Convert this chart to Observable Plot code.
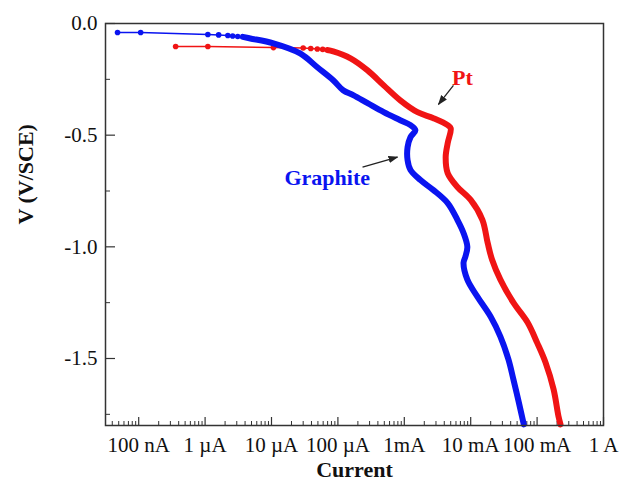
<!DOCTYPE html>
<html>
<head>
<meta charset="utf-8">
<script src="https://cdn.jsdelivr.net/npm/d3@7"></script>
<script src="https://cdn.jsdelivr.net/npm/@observablehq/plot@0.6"></script>
<style>
  html, body { margin: 0; padding: 0; background: #fff; }
  #chart { width: 636px; height: 484px; }
</style>
</head>
<body>
<div id="chart"></div>
<script>
// ---- Data ----
const graphiteI = [4.8e-8, 1.07e-7, 1.1e-6, 1.6e-6, 2.2e-6, 2.6e-6, 3.1e-6, 3.7e-6, 4.8e-6, 1.07e-5, 2.7e-5, 4.9e-5, 8.5e-5, 1.2e-4, 1.7e-4, 2.8e-4, 4.9e-4, 8.7e-4, 1.24e-3, 1.47e-3, 1.24e-3, 1.12e-3, 1.12e-3, 1.24e-3, 1.75e-3, 2.75e-3, 4.5e-3, 6.3e-3, 7.8e-3, 8.9e-3, 8.3e-3, 7.8e-3, 8.9e-3, 1.26e-2, 2.0e-2, 2.8e-2, 3.7e-2, 4.4e-2, 5.3e-2, 6.3e-2];
const graphiteV = [-0.040, -0.040, -0.049, -0.051, -0.054, -0.056, -0.058, -0.060, -0.067, -0.089, -0.134, -0.196, -0.254, -0.299, -0.321, -0.357, -0.397, -0.433, -0.455, -0.478, -0.509, -0.554, -0.612, -0.656, -0.701, -0.746, -0.804, -0.879, -0.938, -1.000, -1.045, -1.071, -1.147, -1.223, -1.313, -1.402, -1.504, -1.594, -1.696, -1.795];
const graphiteDenseFrom = 7;

const ptI = [3.6e-7, 1.1e-6, 1.07e-5, 3.0e-5, 3.9e-5, 4.9e-5, 5.9e-5, 6.9e-5, 8.5e-5, 1.55e-4, 2.8e-4, 4.9e-4, 8.7e-4, 1.58e-3, 2.75e-3, 4.5e-3, 5.0e-3, 4.5e-3, 4.2e-3, 4.5e-3, 6.3e-3, 1.0e-2, 1.5e-2, 1.8e-2, 2.1e-2, 2.8e-2, 4.4e-2, 7.2e-2, 0.10, 0.134, 0.177, 0.21, 0.225];
const ptV = [-0.103, -0.103, -0.108, -0.110, -0.112, -0.114, -0.116, -0.119, -0.125, -0.156, -0.210, -0.277, -0.344, -0.397, -0.424, -0.455, -0.469, -0.536, -0.598, -0.670, -0.732, -0.790, -0.879, -0.982, -1.058, -1.147, -1.250, -1.339, -1.429, -1.518, -1.638, -1.759, -1.795];
const ptDenseFrom = 7;

const xTickValues = [1e-7, 1e-6, 1e-5, 1e-4, 1e-3, 1e-2, 1e-1, 1];
const xTickLabels = ["100 nA", "1 \u00B5A", "10 \u00B5A", "100 \u00B5A", "1mA", "10 mA", "100 mA", "1 A"];
const yTickValues = [0, -0.5, -1.0, -1.5];
const yTickLabels = ["0.0", "-0.5", "-1.0", "-1.5"];
const yMinorValues = [-0.25, -0.75, -1.25, -1.75];

const labelNames = ["Pt", "Graphite"];
const labelI = [7.5e-3, 6.9e-5];
const labelV = [-0.246, -0.69];
const arrowFromI = [5.5e-3, 2.35e-4];
const arrowFromV = [-0.277, -0.643];
const arrowToI = [3.27e-3, 7.9e-4];
const arrowToV = [-0.362, -0.598];

// ---- Build tables ----
const xDomain = [Math.pow(10, -7.5), 1];
const yDomain = [-1.8, 0];
const graphite = graphiteI.map((I, i) => ({I, V: graphiteV[i], i}));
const pt = ptI.map((I, i) => ({I, V: ptV[i], i}));
const xMinor = [];
for (let e = -8; e <= -1; e++) for (let m = 2; m <= 9; m++) {
  const v = m * Math.pow(10, e);
  if (v > xDomain[0] && v < xDomain[1]) xMinor.push(v);
}
const labels = labelNames.map((t, i) => ({t, I: labelI[i], V: labelV[i]}));
const arrows = arrowFromI.map((d, i) => ({x1: d, y1: arrowFromV[i], x2: arrowToI[i], y2: arrowToV[i]}));

const W = 636, H = 484;
const mt = 23, mr = 33, mb = 59, ml = 105;
const fw = W - ml - mr, fh = H - mt - mb;
const BLUE = "#0a14f0", RED = "#f01414";
const font = "'Liberation Serif', 'Times New Roman', serif";

function filledArrow(color, context) {
  const doc = (context && context.document) || document;
  const m = doc.createElementNS("http://www.w3.org/2000/svg", "marker");
  m.setAttribute("viewBox", "0 -5 10 10");
  m.setAttribute("refX", "9");
  m.setAttribute("refY", "0");
  m.setAttribute("markerUnits", "userSpaceOnUse");
  m.setAttribute("markerWidth", "10");
  m.setAttribute("markerHeight", "10");
  m.setAttribute("orient", "auto");
  const p = doc.createElementNS("http://www.w3.org/2000/svg", "path");
  p.setAttribute("d", "M0,-3.6L10,0L0,3.6Z");
  p.setAttribute("fill", color);
  p.setAttribute("stroke", "none");
  m.appendChild(p);
  return m;
}

function build(useCustom) {
  const arrowMark = useCustom
    ? Plot.link(arrows, {x1: "x1", y1: "y1", x2: "x2", y2: "y2", stroke: "#222", strokeWidth: 1.3, markerEnd: filledArrow})
    : Plot.arrow(arrows, {x1: "x1", y1: "y1", x2: "x2", y2: "y2", stroke: "#222", strokeWidth: 1.3, headLength: 9, headAngle: 40});
  return Plot.plot({
    width: W, height: H,
    marginTop: mt, marginRight: mr, marginBottom: mb, marginLeft: ml,
    style: {fontFamily: font, background: "#fff", color: "#111"},
    x: {type: "log", domain: xDomain, axis: null},
    y: {domain: yDomain, axis: null},
    marks: [
      Plot.tickX(xTickValues, {x: d => d, insetTop: fh - 8, stroke: "#333", strokeWidth: 1.2}),
      Plot.tickX(xMinor, {x: d => d, insetTop: fh - 4, stroke: "#333", strokeWidth: 1}),
      Plot.tickY(yTickValues, {y: d => d, insetRight: fw - 10, stroke: "#333", strokeWidth: 1.2}),
      Plot.tickY(yMinorValues, {y: d => d, insetRight: fw - 5, stroke: "#333", strokeWidth: 1}),
      Plot.axisX(xTickValues, {tickSize: 0, tickPadding: 12, fontSize: 21, fill: "#111",
        tickFormat: d => xTickLabels[xTickValues.indexOf(d)], label: null}),
      Plot.axisY(yTickValues, {tickSize: 0, tickPadding: 8, fontSize: 21, fill: "#111",
        tickFormat: d => yTickLabels[yTickValues.indexOf(d)], label: null}),
      Plot.line(pt, {x: "I", y: "V", stroke: RED, strokeWidth: 1.5}),
      Plot.line(pt.filter(d => d.i >= ptDenseFrom), {x: "I", y: "V", stroke: RED, strokeWidth: 6, curve: "catmull-rom"}),
      Plot.dot(pt.filter(d => d.i < ptDenseFrom), {x: "I", y: "V", r: 2.8, fill: RED}),
      Plot.line(graphite, {x: "I", y: "V", stroke: BLUE, strokeWidth: 1.5}),
      Plot.line(graphite.filter(d => d.i >= graphiteDenseFrom), {x: "I", y: "V", stroke: BLUE, strokeWidth: 6, curve: "catmull-rom"}),
      Plot.dot(graphite.filter(d => d.i < graphiteDenseFrom), {x: "I", y: "V", r: 2.8, fill: BLUE}),
      arrowMark,
      Plot.text(labels, {x: "I", y: "V", text: "t", fontSize: 22, fontWeight: "bold",
        fill: d => d.t === "Pt" ? RED : BLUE}),
      Plot.text(["Current"], {frameAnchor: "bottom", dy: 51, lineAnchor: "bottom", text: d => d,
        fontSize: 22, fontWeight: "bold", fill: "#111"}),
      Plot.text(["V (V/SCE)"], {frameAnchor: "left", dx: -80, rotate: -90, text: d => d,
        fontSize: 22, fontWeight: "bold", fill: "#111"}),
      Plot.frame({stroke: "#333", strokeWidth: 1.5})
    ]
  });
}
let chart;
try { chart = build(true); } catch (e) { chart = build(false); }
document.getElementById("chart").appendChild(chart);
</script>
</body>
</html>
